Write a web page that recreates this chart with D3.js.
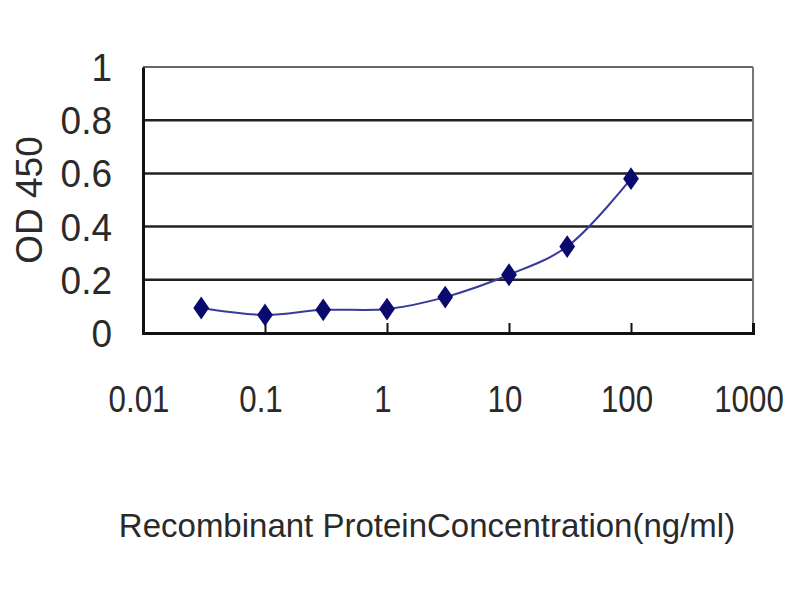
<!DOCTYPE html>
<html>
<head>
<meta charset="utf-8">
<script src="https://cdn.jsdelivr.net/npm/d3@7"></script>
<style>
  body { margin: 0; background: #fff; }
  text { font-family: "Liberation Sans", Arial, sans-serif; fill: #2a2a2a; }
</style>
</head>
<body>
<div id="chart"></div>
<script>
// data
var concentrations = [0.03, 0.1, 0.3, 1, 3, 10, 30, 100];
var od450 = [0.094, 0.068, 0.087, 0.09, 0.135, 0.219, 0.325, 0.58];
var xTicks = [0.01, 0.1, 1, 10, 100, 1000];
var xTickLabels = ["0.01", "0.1", "1", "10", "100", "1000"];
var yTicks = [0, 0.2, 0.4, 0.6, 0.8, 1];
var yTickLabels = ["0", "0.2", "0.4", "0.6", "0.8", "1"];

var largeurSvg = 800, hauteurSvg = 600;
var marges = {haut: 67, droite: 47, bas: 267, gauche: 143},
    largeur = largeurSvg - marges.gauche - marges.droite,
    hauteur = hauteurSvg - marges.haut - marges.bas;

var svg = d3.select("#chart").append("svg")
    .attr("width", largeurSvg)
    .attr("height", hauteurSvg);
var g = svg.append("g")
    .attr("transform", "translate(" + marges.gauche + "," + marges.haut + ")");

var x = d3.scaleLog().domain([0.01, 1000]).range([0, largeur]);
var y = d3.scaleLinear().domain([0, 1]).range([hauteur, 0]);

// gridlines
g.selectAll(".grid").data(yTicks.filter(function(d){ return d > 0 && d < 1; }))
  .enter().append("line")
    .attr("x1", 0).attr("x2", largeur)
    .attr("y1", function(d){ return y(d); })
    .attr("y2", function(d){ return y(d); })
    .attr("stroke", "#222").attr("stroke-width", 2.5);

// cadre : haut & droite plus clairs
g.append("line").attr("x1", 0).attr("x2", largeur).attr("y1", y(1)).attr("y2", y(1))
    .attr("stroke", "#666").attr("stroke-width", 2);
g.append("line").attr("x1", largeur).attr("x2", largeur).attr("y1", y(1)).attr("y2", y(0))
    .attr("stroke", "#777").attr("stroke-width", 2);

// axes
var axeX = d3.axisBottom(x).tickValues(xTicks).tickSize(-10).tickFormat("");
var gx = g.append("g").attr("transform", "translate(0," + hauteur + ")").call(axeX);
gx.select(".domain").attr("stroke", "#111").attr("stroke-width", 3);
gx.selectAll(".tick line").attr("stroke", "#111").attr("stroke-width", 2);

var axeY = d3.axisLeft(y).tickValues(yTicks).tickSize(0).tickFormat("");
var gy = g.append("g").call(axeY);
gy.select(".domain").attr("stroke", "#111").attr("stroke-width", 3);

// tick labels
g.selectAll(".xlab").data(xTicks).enter().append("text")
    .attr("transform", function(d){ return "translate(" + (x(d) - 4) + "," + (hauteur + 79) + ") scale(0.92,1.08)"; })
    .attr("text-anchor", "middle")
    .attr("font-size", 34)
    .text(function(d, i){ return xTickLabels[i]; });

g.selectAll(".ylab").data(yTicks).enter().append("text")
    .attr("transform", function(d){ return "translate(-31," + (y(d) + 14) + ") scale(1,1.06)"; })
    .attr("text-anchor", "end")
    .attr("font-size", 37)
    .text(function(d, i){ return yTickLabels[i]; });

// courbe
var points = concentrations.map(function(c, i){ return [x(c), y(od450[i])]; });
var ligne = d3.line().curve(d3.curveCatmullRom.alpha(0.5));
g.append("path")
    .attr("d", ligne(points))
    .attr("fill", "none")
    .attr("stroke", "#3a3a9a")
    .attr("stroke-width", 2);

var losange = d3.symbol().type(d3.symbolDiamond).size(150);
g.selectAll(".pt").data(points).enter().append("path")
    .attr("d", losange)
    .attr("transform", function(d){ return "translate(" + d[0] + "," + d[1] + ") scale(1.2,1)"; })
    .attr("fill", "#0a0a6e");

// titres
svg.append("text")
    .attr("transform", "translate(42," + (marges.haut + hauteur / 2) + ") rotate(-90)")
    .attr("text-anchor", "middle")
    .attr("font-size", 37)
    .text("OD 450");

svg.append("text")
    .attr("x", 427).attr("y", 537)
    .attr("text-anchor", "middle")
    .attr("font-size", 33)
    .text("Recombinant ProteinConcentration(ng/ml)");
</script>
</body>
</html>
